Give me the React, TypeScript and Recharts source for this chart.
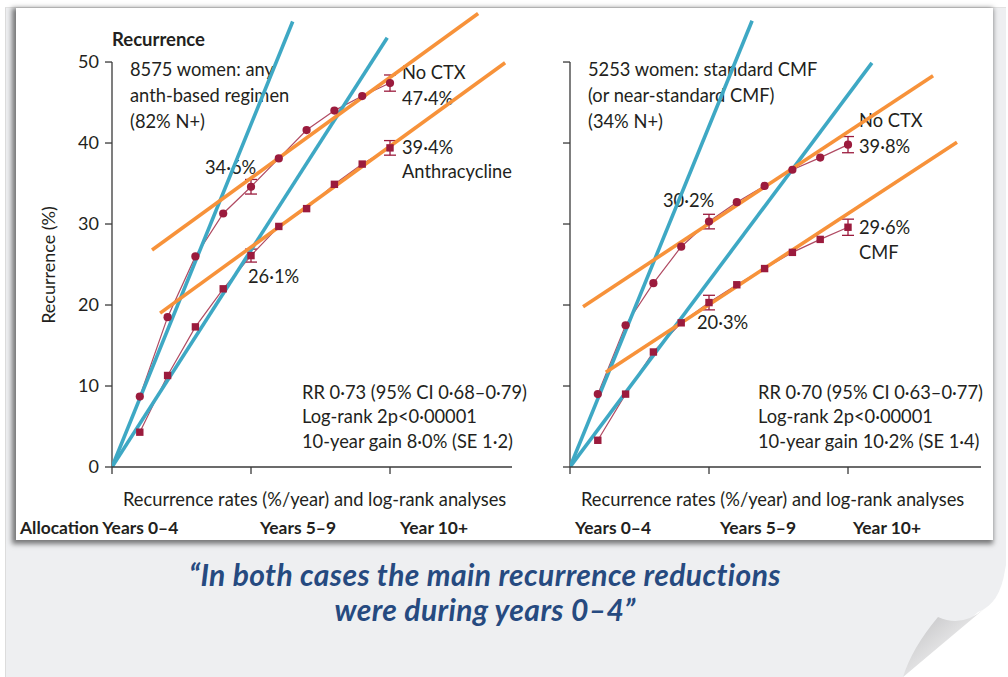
import React from 'react';
import { LineChart, Line, XAxis, YAxis, ReferenceLine, ErrorBar } from 'recharts';

// years since allocation
const years = [1, 2, 3, 4, 5, 6, 7, 8, 9, 10];

// left panel: any anthracycline-based regimen vs no chemotherapy
const leftNoCtx = [8.7, 18.5, 26.0, 31.3, 34.6, 38.1, 41.6, 44.0, 45.8, 47.4];
const leftAnth = [4.3, 11.3, 17.3, 22.0, 26.1, 29.7, 31.9, 34.9, 37.4, 39.4];
const leftNoCtxErr = [null, null, null, null, 0.9, null, null, null, null, 1.0];
const leftAnthErr = [null, null, null, null, 0.8, null, null, null, null, 0.9];

// right panel: standard CMF vs no chemotherapy
const rightNoCtx = [9.0, 17.5, 22.7, 27.2, 30.3, 32.7, 34.7, 36.7, 38.2, 39.8];
const rightCmf = [3.3, 9.0, 14.2, 17.8, 20.3, 22.5, 24.5, 26.5, 28.1, 29.6];
const rightNoCtxErr = [null, null, null, null, 0.9, null, null, null, null, 1.0];
const rightCmfErr = [null, null, null, null, 0.9, null, null, null, null, 1.0];

// hand-drawn trend lines (start / end points)
const leftEarlyNoCtx = [{ x: 0, y: 0 }, { x: 6.5, y: 55 }];
const leftEarlyAnth = [{ x: 0, y: 0 }, { x: 9.9, y: 53 }];
const leftLateNoCtx = [{ x: 1.44, y: 26.8 }, { x: 13.17, y: 56 }];
const leftLateAnth = [{ x: 1.73, y: 19 }, { x: 14.14, y: 49.9 }];

const rightEarlyNoCtx = [{ x: 0, y: 0 }, { x: 6.55, y: 55.1 }];
const rightEarlyCmf = [{ x: 0, y: 0 }, { x: 10.86, y: 49.9 }];
const rightLateNoCtx = [{ x: 0.47, y: 19.8 }, { x: 13.06, y: 48.3 }];
const rightLateCmf = [{ x: 1.29, y: 11.7 }, { x: 13.92, y: 40.1 }];

const yTicks = [0, 10, 20, 30, 40, 50];
const xTicks = [0, 5, 10];

const INK = '#231f20';
const RED = '#9b1b3d';
const RED_LINE = '#b04a62';
const BLUE = '#3ea8c4';
const ORANGE = '#f7923a';
const FONT = 'Lato, "Open Sans", sans-serif';

const noTick = () => <g />;

const squareDot = (props: any) => {
  const { cx, cy, index } = props;
  return <rect key={`sq-${index}`} x={cx - 3.7} y={cy - 3.7} width={7.4} height={7.4} fill={RED} />;
};

interface PanelProps {
  left: number;
  width: number;
  yAxisWidth: number;
  xMax: number;
  showYLabels: boolean;
  noCtx: number[];
  treated: number[];
  noCtxErr: (number | null)[];
  treatedErr: (number | null)[];
  trends: { blue: { x: number; y: number }[][]; orange: { x: number; y: number }[][] };
}

const Panel: React.FC<PanelProps> = (p) => {
  const rows = years.map((x, i) => ({
    x,
    noCtx: p.noCtx[i],
    treated: p.treated[i],
    noCtxErr: p.noCtxErr[i],
    treatedErr: p.treatedErr[i],
  }));
  return (
    <div style={{ position: 'absolute', left: p.left, top: 0, zIndex: 3 }}>
      <LineChart width={p.width} height={560} data={rows} margin={{ top: 5, right: p.width - p.yAxisWidth - Math.round(p.xMax * 27.8), left: 0, bottom: 0 }}>
        <XAxis
          type="number"
          dataKey="x"
          domain={[0, p.xMax]}
          ticks={xTicks}
          allowDataOverflow
          height={93}
          tick={noTick}
          tickSize={7}
          tickLine={{ stroke: '#3a3a3a', strokeWidth: 1.3 }}
          axisLine={{ stroke: '#3a3a3a', strokeWidth: 1.3 }}
        />
        <YAxis
          type="number"
          domain={[0, 57.04]}
          ticks={yTicks}
          allowDataOverflow
          width={p.yAxisWidth}
          axisLine={false}
          tickSize={7}
          tickMargin={6}
          tickLine={{ stroke: '#3a3a3a', strokeWidth: 1.3 }}
          tick={p.showYLabels ? { fill: INK, fontSize: 18, fontFamily: FONT } : noTick}
        />
        <ReferenceLine segment={[{ x: 0, y: 0 }, { x: 0, y: 50 }]} stroke="#3a3a3a" strokeWidth={1.3} />
        <Line
          dataKey="noCtx"
          stroke={RED_LINE}
          strokeWidth={1.2}
          dot={{ r: 4.1, fill: RED, stroke: RED, strokeWidth: 0 }}
          isAnimationActive={false}
        >
          <ErrorBar dataKey="noCtxErr" width={6} stroke={RED} strokeWidth={1.3} direction="y" />
        </Line>
        <Line
          dataKey="treated"
          stroke={RED_LINE}
          strokeWidth={1.2}
          dot={squareDot}
          isAnimationActive={false}
        >
          <ErrorBar dataKey="treatedErr" width={6} stroke={RED} strokeWidth={1.3} direction="y" />
        </Line>
        {p.trends.blue.map((d, i) => (
          <Line key={`b${i}`} data={d} dataKey="y" stroke={BLUE} strokeWidth={3.6} dot={false} isAnimationActive={false} />
        ))}
        {p.trends.orange.map((d, i) => (
          <Line key={`o${i}`} data={d} dataKey="y" stroke={ORANGE} strokeWidth={3.6} dot={false} isAnimationActive={false} />
        ))}
      </LineChart>
    </div>
  );
};

const T: React.FC<{ x: number; cy: number; size?: number; bold?: boolean; children: React.ReactNode }> = ({ x, cy, size = 18.3, bold, children }) => (
  <div
    style={{
      position: 'absolute',
      left: x,
      top: cy - size * 0.53,
      fontSize: size,
      lineHeight: `${size}px`,
      fontWeight: bold ? 700 : 400,
      whiteSpace: 'nowrap',
      color: INK,
    }}
  >
    {children}
  </div>
);

export default function App() {
  return (
    <div style={{ position: 'relative', width: 1008, height: 677, background: '#fff', overflow: 'hidden', fontFamily: FONT }}>
      <style>{'body{margin:0}'}</style>
      {/* slide page */}
      <div style={{ position: 'absolute', left: 5, top: 7, width: 1000, height: 670, background: '#eeeff1', borderLeft: '1px solid #dcdcdc', borderTop: '1px solid #e2e2e2' }} />
      {/* white chart card */}
      <div style={{ position: 'absolute', left: 16, top: 8, width: 977, height: 532, background: '#fff', boxShadow: '-2px 2px 5px 2px rgba(0,0,0,0.5)' }} />

      {/* text layer (under the drawn lines) */}
      <div style={{ position: 'absolute', left: 0, top: 0, width: 1008, height: 560, zIndex: 2 }}>
        <T x={112} cy={40} size={18.5} bold>Recurrence</T>
        <div style={{ position: 'absolute', left: 48, top: 265, transform: 'translate(-50%,-50%) rotate(-90deg)', fontSize: 18, whiteSpace: 'nowrap', color: INK }}>
          Recurrence (%)
        </div>
        <T x={130} cy={70}>8575 women: any</T>
        <T x={130} cy={96}>anth-based regimen</T>
        <T x={130} cy={122}>(82% N+)</T>
        <T x={402} cy={73}>No CTX</T>
        <T x={402} cy={99}>47·4%</T>
        <T x={402} cy={148}>39·4%</T>
        <T x={402} cy={172}>Anthracycline</T>
        <T x={205} cy={168}>34·6%</T>
        <T x={248} cy={277}>26·1%</T>
        <T x={302} cy={393}>RR 0·73 (95% CI 0·68–0·79)</T>
        <T x={302} cy={417}>Log-rank 2p&lt;0·00001</T>
        <T x={302} cy={442}>10-year gain 8·0% (SE 1·2)</T>
        <T x={123} cy={500}>Recurrence rates (%/year) and log-rank analyses</T>
        <T x={20} cy={528} size={17.4} bold>Allocation Years 0–4</T>
        <T x={260} cy={528} size={17.4} bold>Years 5–9</T>
        <T x={400} cy={528} size={17.4} bold>Year 10+</T>

        <T x={588} cy={70}>5253 women: standard CMF</T>
        <T x={588} cy={96}>(or near-standard CMF)</T>
        <T x={588} cy={122}>(34% N+)</T>
        <T x={859} cy={121}>No CTX</T>
        <T x={859} cy={147}>39·8%</T>
        <T x={859} cy={228}>29·6%</T>
        <T x={859} cy={253}>CMF</T>
        <T x={663} cy={201}>30·2%</T>
        <T x={697} cy={323}>20·3%</T>
        <T x={758} cy={393}>RR 0·70 (95% CI 0·63–0·77)</T>
        <T x={758} cy={417}>Log-rank 2p&lt;0·00001</T>
        <T x={758} cy={442}>10-year gain 10·2% (SE 1·4)</T>
        <T x={581} cy={500}>Recurrence rates (%/year) and log-rank analyses</T>
        <T x={575} cy={528} size={17.4} bold>Years 0–4</T>
        <T x={720} cy={528} size={17.4} bold>Years 5–9</T>
        <T x={853} cy={528} size={17.4} bold>Year 10+</T>
      </div>

      <Panel
        left={0}
        width={520}
        yAxisWidth={112}
        xMax={14.388}
        showYLabels
        noCtx={leftNoCtx}
        treated={leftAnth}
        noCtxErr={leftNoCtxErr}
        treatedErr={leftAnthErr}
        trends={{ blue: [leftEarlyNoCtx, leftEarlyAnth], orange: [leftLateNoCtx, leftLateAnth] }}
      />
      <Panel
        left={520}
        width={471}
        yAxisWidth={50}
        xMax={14.784}
        showYLabels={false}
        noCtx={rightNoCtx}
        treated={rightCmf}
        noCtxErr={rightNoCtxErr}
        treatedErr={rightCmfErr}
        trends={{ blue: [rightEarlyNoCtx, rightEarlyCmf], orange: [rightLateNoCtx, rightLateCmf] }}
      />

      {/* quote */}
      <div
        style={{
          position: 'absolute',
          left: 0,
          top: 557,
          width: 970,
          textAlign: 'center',
          fontSize: 30,
          lineHeight: '35px',
          letterSpacing: '0.4px',
          fontWeight: 700,
          fontStyle: 'italic',
          color: '#264a80',
        }}
      >
        “In both cases the main recurrence reductions
        <br />
        were during years 0–4”
      </div>

      {/* page curl, bottom right */}
      <svg width={1008} height={677} style={{ position: 'absolute', left: 0, top: 0, zIndex: 4, pointerEvents: 'none' }}>
        <defs>
          <linearGradient id="curl" x1="0" y1="0" x2="1" y2="1">
            <stop offset="0" stopColor="#b9b9bb" />
            <stop offset="0.6" stopColor="#e9e9ea" />
            <stop offset="1" stopColor="#ffffff" />
          </linearGradient>
        </defs>
        <path d="M1008 555 L1005 570 Q1000 604 978 612 L903 677 L1008 677 Z" fill="#fff" />
        <path d="M938 617 Q962 628 984 609 L903 677 Q912 648 938 617 Z" fill="url(#curl)" />
      </svg>
    </div>
  );
}
